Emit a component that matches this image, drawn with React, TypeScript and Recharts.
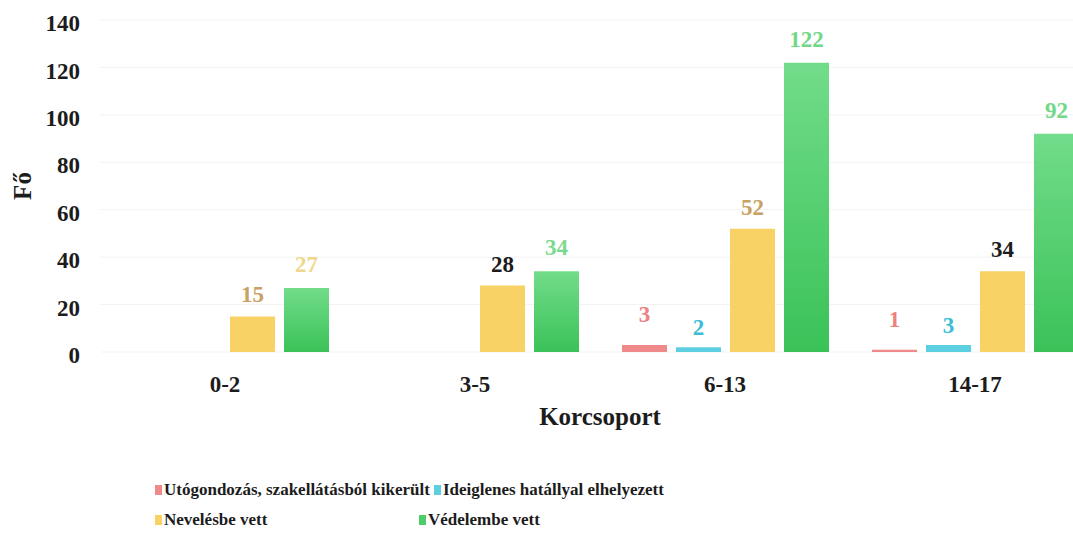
import React from 'react'
import { BarChart, Bar, XAxis, YAxis, CartesianGrid, Legend, LabelList } from 'recharts'

const AGE_GROUPS = ['0-2', '3-5', '6-13', '14-17']
const UTOGONDOZAS = [null, null, 3, 1]
const IDEIGLENES = [null, null, 2, 3]
const NEVELESBE = [15, 28, 52, 34]
const VEDELEMBE = [27, 34, 122, 92]
const Y_TICKS = [0, 20, 40, 60, 80, 100, 120, 140]
const SERIES_ORDER = ['utogondozas', 'ideiglenes', 'nevelesbe', 'vedelembe']

const FONT = '"Liberation Serif", "Times New Roman", Times, serif'
const INK = '#1c1c1c'

const data = AGE_GROUPS.map((g, i) => ({
  csoport: g,
  utogondozas: UTOGONDOZAS[i],
  ideiglenes: IDEIGLENES[i],
  nevelesbe: NEVELESBE[i],
  vedelembe: VEDELEMBE[i],
}))

const MARKER_COLORS: Record<string, string> = {
  utogondozas: '#f08a8a',
  ideiglenes: '#5ccfe0',
  nevelesbe: '#f8d264',
  vedelembe: '#4ccd6a',
}

// label colours per point, as in the original (some were left black / pale)
const LABEL_COLORS = {
  utogondozas: ['#ee8080', '#ee8080', '#ee8080', '#ee8080'],
  ideiglenes: ['#3cbdd5', '#3cbdd5', '#3cbdd5', '#3cbdd5'],
  nevelesbe: ['#c8a262', INK, '#c8a262', INK],
  vedelembe: ['#efd88c', '#7cda8f', '#72d888', '#72d888'],
}

const makeLabel = (colors: string[], offset: number) => (props: any) => {
  const { x, y, width, value, index } = props
  if (value == null || value === 0) return null
  return (
    <text
      x={Number(x) + Number(width) / 2}
      y={Number(y) - offset}
      textAnchor="middle"
      fill={colors[index]}
      fontFamily={FONT}
      fontWeight="bold"
      fontSize={23}
    >
      {value}
    </text>
  )
}

const LegendItem = ({ item, style }: { item: any; style?: React.CSSProperties }) => (
  <span style={{ display: 'inline-block', whiteSpace: 'nowrap', ...style }}>
    <span
      style={{
        display: 'inline-block',
        width: 7,
        height: 10,
        background: MARKER_COLORS[item.dataKey],
        marginRight: 2,
        verticalAlign: 'middle',
        position: 'relative',
        top: -1,
      }}
    />
    {item.value}
  </span>
)

const renderLegend = (props: any) => {
  const items = [...(props.payload || [])].sort(
    (a: any, b: any) => SERIES_ORDER.indexOf(a.dataKey) - SERIES_ORDER.indexOf(b.dataKey)
  )
  if (items.length < 4) return null
  return (
    <div
      style={{
        marginLeft: 155,
        fontFamily: FONT,
        fontWeight: 'bold',
        fontSize: 17,
        color: INK,
        lineHeight: '30px',
      }}
    >
      <div>
        <LegendItem item={items[0]} />
        <LegendItem item={items[1]} style={{ marginLeft: 4 }} />
      </div>
      <div>
        <LegendItem item={items[2]} style={{ width: 264 }} />
        <LegendItem item={items[3]} />
      </div>
    </div>
  )
}

export default function App() {
  return (
    <div style={{ position: 'fixed', left: 0, top: 0, width: 1073, height: 538, overflow: 'hidden', background: '#fff' }}>
      <BarChart
        width={1110}
        height={538}
        data={data}
        margin={{ top: 20, right: 10, left: 0, bottom: 96 }}
        barSize={45}
        barGap={9}
      >
        <defs>
          <linearGradient id="zold" x1="0" y1="0" x2="0" y2="1">
            <stop offset="0%" stopColor="#72dc8a" />
            <stop offset="100%" stopColor="#3ac258" />
          </linearGradient>
        </defs>
        <CartesianGrid vertical={false} stroke="#f3f3f3" />
        <XAxis
          dataKey="csoport"
          height={90}
          axisLine={false}
          tickLine={false}
          tickSize={0}
          tickMargin={24}
          tick={{ fill: INK, fontSize: 23, fontWeight: 'bold', fontFamily: FONT }}
          label={{
            content: (p: any) => (
              <text
                x={p.viewBox.x + p.viewBox.width / 2}
                y={p.viewBox.y + 73}
                textAnchor="middle"
                fill={INK}
                fontFamily={FONT}
                fontWeight="bold"
                fontSize={25}
              >
                Korcsoport
              </text>
            ),
          }}
        />
        <YAxis
          width={100}
          domain={[0, 140]}
          ticks={Y_TICKS}
          axisLine={false}
          tickLine={false}
          tickSize={0}
          tickMargin={20}
          tick={{ fill: INK, fontSize: 23, fontWeight: 'bold', fontFamily: FONT, dy: 3 }}
          label={{
            content: (p: any) => {
              const cx = p.viewBox.x + 22
              const cy = p.viewBox.y + p.viewBox.height / 2
              return (
                <text
                  x={cx}
                  y={cy}
                  transform={`rotate(-90, ${cx}, ${cy})`}
                  textAnchor="middle"
                  dominantBaseline="central"
                  fill={INK}
                  fontFamily={FONT}
                  fontWeight="bold"
                  fontSize={25}
                >
                  Fő
                </text>
              )
            },
          }}
        />
        <Legend
          layout="horizontal"
          verticalAlign="middle"
          align="center"
          wrapperStyle={{ top: 475, left: 0, width: 1073 }}
          content={renderLegend}
        />
        <Bar dataKey="utogondozas" name="Utógondozás, szakellátásból kikerült" fill="#f08a8a" isAnimationActive={false}>
          <LabelList dataKey="utogondozas" content={makeLabel(LABEL_COLORS.utogondozas, 23)} />
        </Bar>
        <Bar dataKey="ideiglenes" name="Ideiglenes hatállyal elhelyezett" fill="#5ccfe0" isAnimationActive={false}>
          <LabelList dataKey="ideiglenes" content={makeLabel(LABEL_COLORS.ideiglenes, 12)} />
        </Bar>
        <Bar dataKey="nevelesbe" name="Nevelésbe vett" fill="#f8d264" isAnimationActive={false}>
          <LabelList dataKey="nevelesbe" content={makeLabel(LABEL_COLORS.nevelesbe, 14)} />
        </Bar>
        <Bar dataKey="vedelembe" name="Védelembe vett" fill="url(#zold)" isAnimationActive={false}>
          <LabelList dataKey="vedelembe" content={makeLabel(LABEL_COLORS.vedelembe, 16)} />
        </Bar>
      </BarChart>
    </div>
  )
}
